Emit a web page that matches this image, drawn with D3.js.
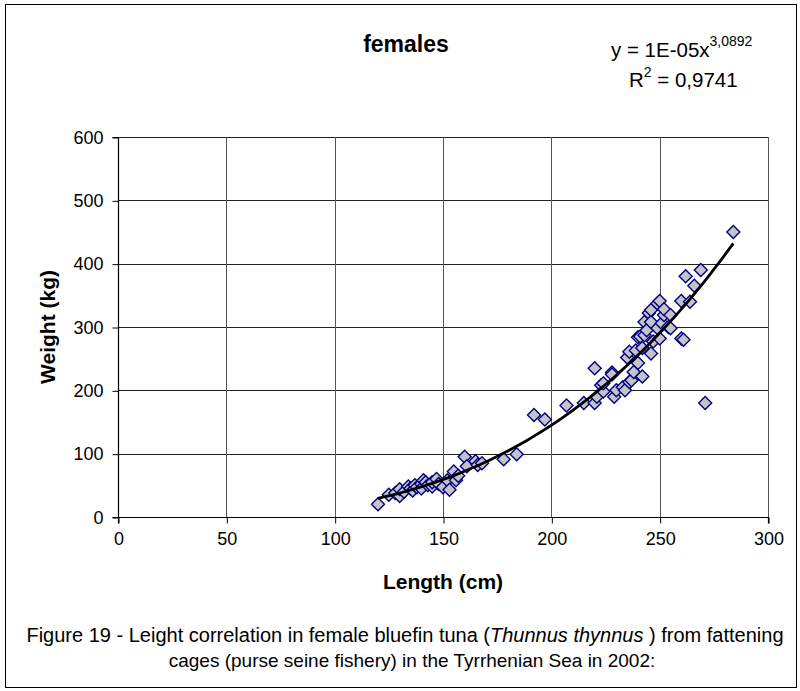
<!DOCTYPE html>
<html>
<head>
<meta charset="utf-8">
<script src="https://cdn.jsdelivr.net/npm/d3@7/dist/d3.min.js"></script>
<style>
  html, body { margin: 0; padding: 0; background: #fff; }
  text { font-family: "Liberation Sans", Arial, sans-serif; fill: #000; }
</style>
</head>
<body>
<svg id="chart" width="800" height="691"></svg>
<script>
// ---------- data ----------
const lengthCm = [
  120,125,128,130,130,132,134,135,136,137,138,140,140,141,142,143,145,145,147,148,
  150,152,153,155,156,157,160,161,165,166,
  168,178,184,192,197,207,215,220,220,221,223,224,224,
  228,228,229,230,233,234,235,236,236,237,238,239,240,240,241,242,242,243,243,244,
  245,246,246,246,247,249,249,250,250,251,252,252,254,255,255,
  260,260,261,262,264,266,269,271,284
];
const weightKg = [
  20,35,38,33,44,40,48,45,42,50,47,52,45,58,55,50,48,55,60,52,
  47,58,43,72,58,65,95,80,88,82,
  85,91,99,161,154,176,180,180,235,190,208,198,211,
  228,225,190,200,205,200,252,261,213,216,229,263,243,284,285,267,222,287,308,295,
  322,308,327,258,277,337,298,282,341,306,319,328,300,298,319,
  282,341,280,380,340,365,390,180,450
];
const xTicks = [0, 50, 100, 150, 200, 250, 300];
const yTicks = [0, 100, 200, 300, 400, 500, 600];
const chartTitle = "females";
const xTitle = "Length (cm)";
const yTitle = "Weight (kg)";
const eqMain = "y = 1E-05x";
const eqExp = "3,0892";
const r2Value = " = 0,9741";

// ---------- layout ----------
const svg = d3.select("#chart");
const X0 = 118, X1 = 768, Y0 = 517, Y1 = 137;
const x = d3.scaleLinear().domain([0, 300]).range([X0, X1]);
const y = d3.scaleLinear().domain([0, 600]).range([Y0, Y1]);

svg.append("rect").attr("x", 0).attr("y", 0).attr("width", 800).attr("height", 691).attr("fill", "#fff");
svg.append("rect").attr("x", 5.5).attr("y", 4.5).attr("width", 791).attr("height", 683)
  .attr("fill", "none").attr("stroke", "#000").attr("stroke-width", 1);

// gridlines
svg.append("g").selectAll("line").data(yTicks.filter(d => d > 0)).join("line")
  .attr("x1", X0).attr("x2", X1)
  .attr("y1", d => Math.round(y(d)) + 0.5).attr("y2", d => Math.round(y(d)) + 0.5)
  .attr("stroke", "#222").attr("stroke-width", 1);
svg.append("g").selectAll("line").data(xTicks.filter(d => d > 0)).join("line")
  .attr("y1", Y1).attr("y2", Y0)
  .attr("x1", d => Math.round(x(d)) + 0.5).attr("x2", d => Math.round(x(d)) + 0.5)
  .attr("stroke", "#555").attr("stroke-width", 1);

// axes
const yAxis = d3.axisLeft(y).tickValues(yTicks).tickSize(6).tickPadding(9).tickFormat(d3.format("d"));
const xAxis = d3.axisBottom(x).tickValues(xTicks).tickSize(6).tickPadding(9).tickFormat(d3.format("d"));
const gy = svg.append("g").attr("transform", `translate(${X0 + 0.5},0.5)`).call(yAxis);
const gx = svg.append("g").attr("transform", `translate(0.5,${Y0 + 0.5})`).call(xAxis);
[gy, gx].forEach(g => {
  g.select(".domain").attr("stroke", "#000").attr("stroke-width", 1.2);
  g.selectAll(".tick line").attr("stroke", "#000");
  g.selectAll(".tick text").attr("font-size", 18).attr("font-family", "Liberation Sans, Arial, sans-serif").attr("fill", "#000");
});
gy.select(".domain").attr("d", `M-6,${Y1}H0V${Y0}H-6`);
gx.select(".domain").attr("d", `M${X0},6V0H${X1}V6`);

// markers
const pts = lengthCm.map((L, i) => ({ L, W: weightKg[i] }));
const r = 6.5;
svg.append("g").selectAll("path").data(pts).join("path")
  .attr("transform", d => `translate(${x(d.L)},${y(d.W)})`)
  .attr("d", `M0,${-r}L${r},0L0,${r}L${-r},0Z`)
  .attr("fill", "#c4c4c8").attr("stroke", "#000080").attr("stroke-width", 1.4);

// power trendline fitted from the data (least squares on logs, as Excel does)
const lx = pts.map(p => Math.log(p.L)), ly = pts.map(p => Math.log(p.W));
const mx = d3.mean(lx), my = d3.mean(ly);
const b = d3.sum(lx.map((v, i) => (v - mx) * (ly[i] - my))) / d3.sum(lx.map(v => (v - mx) ** 2));
const a = Math.exp(my - b * mx);
const [minL, maxL] = d3.extent(lengthCm);
const trend = d3.range(0, 61).map(i => {
  const L = minL + (maxL - minL) * i / 60;
  return [L, a * Math.pow(L, b)];
});
svg.append("path").datum(trend)
  .attr("d", d3.line().x(d => x(d[0])).y(d => y(d[1])))
  .attr("fill", "none").attr("stroke", "#000").attr("stroke-width", 2.8);

// titles
svg.append("text").attr("x", 406).attr("y", 52).attr("text-anchor", "middle")
  .attr("font-size", 23).attr("font-weight", "bold").text(chartTitle);
svg.append("text").attr("x", 443).attr("y", 589).attr("text-anchor", "middle")
  .attr("font-size", 21).attr("font-weight", "bold").text(xTitle);
svg.append("text").attr("transform", `translate(55,${(Y0 + Y1) / 2}) rotate(-90)`).attr("text-anchor", "middle")
  .attr("font-size", 21).attr("font-weight", "bold").text(yTitle);

// equation
const eq = svg.append("text").attr("x", 611).attr("y", 57).attr("font-size", 20.5);
eq.append("tspan").text(eqMain);
eq.append("tspan").attr("dy", -11).attr("font-size", 14).text(eqExp);
const r2 = svg.append("text").attr("x", 629).attr("y", 87).attr("font-size", 20.5);
r2.append("tspan").text("R");
r2.append("tspan").attr("dy", -10).attr("font-size", 14).text("2");
r2.append("tspan").attr("dy", 10).text(r2Value);

// caption
const c1 = svg.append("text").attr("x", 405).attr("y", 642).attr("text-anchor", "middle").attr("font-size", 20);
c1.append("tspan").text("Figure 19 - Leight correlation in female bluefin tuna (");
c1.append("tspan").attr("font-style", "italic").text("Thunnus thynnus ");
c1.append("tspan").text(") from fattening");
svg.append("text").attr("x", 412).attr("y", 667).attr("text-anchor", "middle").attr("font-size", 19)
  .text("cages (purse seine fishery) in the Tyrrhenian Sea in 2002:");
</script>
</body>
</html>
